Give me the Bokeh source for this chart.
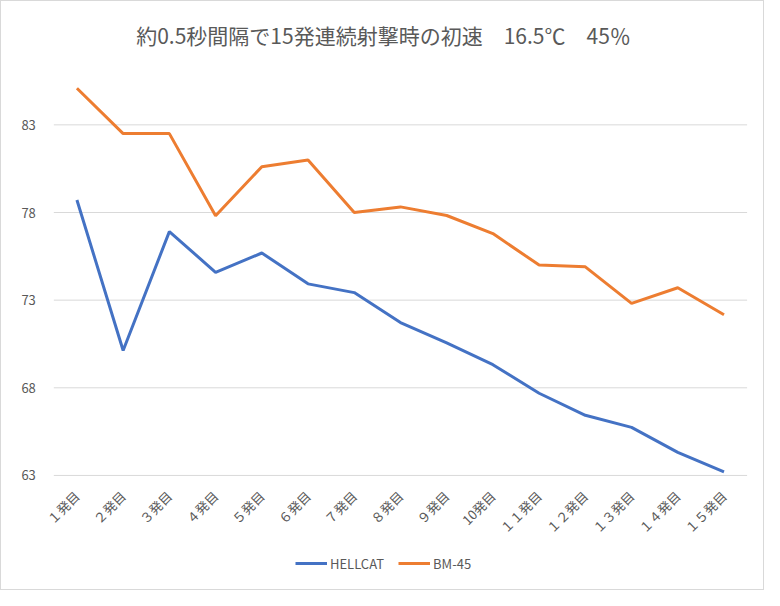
import math
from bokeh.plotting import figure
from bokeh.models import Range1d, FixedTicker, Legend, LegendItem
from bokeh.embed import file_html
from bokeh.resources import INLINE

title_text = "約0.5秒間隔で15発連続射撃時の初速　16.5℃　45％"
categories = ["１発目", "２発目", "３発目", "４発目", "５発目", "６発目", "７発目", "８発目",
              "９発目", "10発目", "１１発目", "１２発目", "１３発目", "１４発目", "１５発目"]
hellcat = [78.71, 70.13, 76.91, 74.59, 75.69, 73.93, 73.43, 71.72, 70.56, 69.32,
           67.69, 66.43, 65.74, 64.32, 63.2]
bm45 = [85.09, 82.5, 82.5, 77.82, 80.61, 81.0, 78.0, 78.32, 77.83, 76.8,
        75.0, 74.9, 72.82, 73.71, 72.17]
y_ticks = [63, 68, 73, 78, 83]

FONT = "Noto Sans CJK JP"
GRAY = "#595959"
GRID = "#d9d9d9"

n = len(categories)
xi = list(range(1, n + 1))
x_lo, x_hi = 0.5, n + 0.5

p = figure(width=764, height=590, output_backend="svg", toolbar_location=None,
           x_range=Range1d(-0.632, 15.898),
           y_range=Range1d(56.38, 86.5),
           min_border_left=0, min_border_right=0, min_border_top=62, min_border_bottom=0)

p.outline_line_color = None
p.background_fill_color = "white"
p.border_fill_color = "white"
p.styles = {"border": "1px solid #d9d9d9"}

p.title.text = title_text
p.title.align = "center"
p.title.text_font = FONT
p.title.text_font_size = "21px"
p.title.text_font_style = "normal"
p.title.text_color = GRAY
p.title.standoff = 28

# horizontal gridlines spanning the category band only
p.segment(x0=[x_lo] * len(y_ticks), x1=[x_hi] * len(y_ticks), y0=y_ticks, y1=y_ticks,
          line_color=GRID, line_width=1)

r1 = p.line(xi, hellcat, line_color="#4472C4", line_width=3)
r2 = p.line(xi, bm45, line_color="#ED7D31", line_width=3)

p.xgrid.grid_line_color = None
p.ygrid.grid_line_color = None

p.yaxis.fixed_location = x_lo
p.yaxis.ticker = FixedTicker(ticks=y_ticks)
p.yaxis.axis_line_color = None
p.yaxis.major_tick_line_color = None
p.yaxis.minor_tick_line_color = None
p.yaxis.major_label_text_font = FONT
p.yaxis.major_label_text_font_size = "13px"
p.yaxis.major_label_text_color = GRAY
p.yaxis.major_label_standoff = 12

p.xaxis.fixed_location = y_ticks[0]
p.xaxis.ticker = FixedTicker(ticks=xi)
p.xaxis.major_label_overrides = {i: c for i, c in zip(xi, categories)}
p.xaxis.axis_line_color = None
p.xaxis.major_tick_line_color = None
p.xaxis.minor_tick_line_color = None
p.xaxis.major_label_orientation = math.pi / 4
p.xaxis.major_label_text_font = FONT
p.xaxis.major_label_text_font_size = "13px"
p.xaxis.major_label_text_color = GRAY
p.xaxis.major_label_standoff = 12

legend = Legend(items=[LegendItem(label="HELLCAT", renderers=[r1]),
                       LegendItem(label="BM-45", renderers=[r2])],
                orientation="horizontal", location=(294, 18),
                label_text_font=FONT, label_text_font_size="13px", label_text_color=GRAY,
                border_line_color=None, background_fill_alpha=0,
                glyph_width=32, spacing=14, label_standoff=3, padding=4, margin=0)
p.add_layout(legend)

open("out.html", "w").write(file_html(p, INLINE))
